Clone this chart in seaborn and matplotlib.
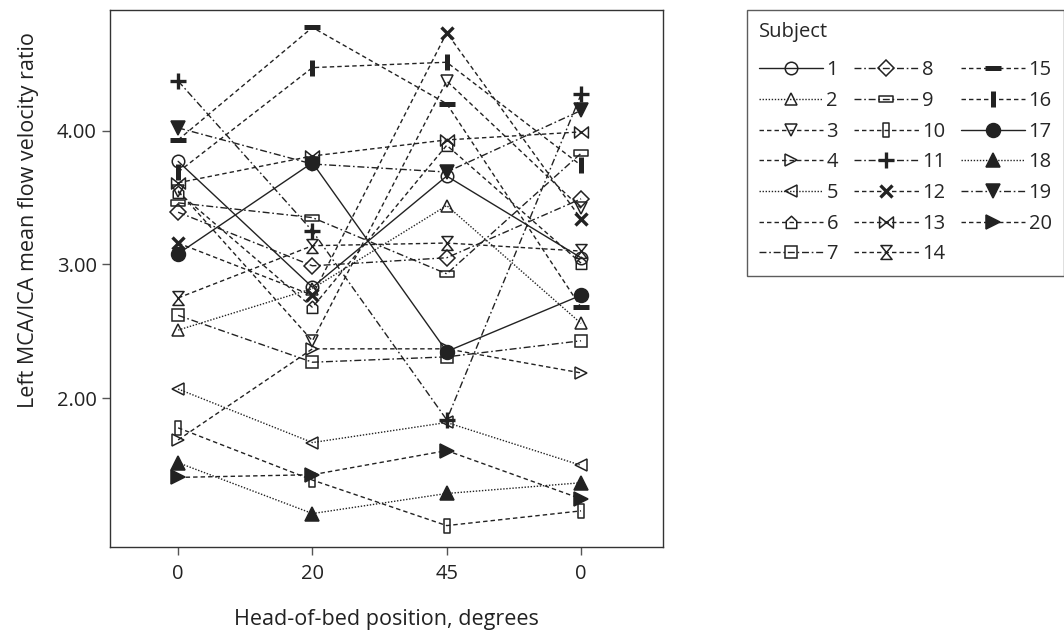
import numpy as np
import pandas as pd
import matplotlib
matplotlib.use("Agg")
import matplotlib.pyplot as plt
from matplotlib.path import Path
from matplotlib.lines import Line2D
import seaborn as sns

# ---------------- data ----------------
subjects = list(range(1, 21))
position_labels = ["0", "20", "45", "0"]
position_index = [0, 1, 2, 3]

at_0_start = [3.77, 2.51, 3.55, 1.69, 2.07, 3.54, 2.62, 3.39, 3.46, 1.78,
              4.37, 3.16, 3.61, 2.75, 3.93, 3.69, 3.08, 1.52, 4.02, 1.41]
at_20 = [2.83, 2.82, 2.43, 2.37, 1.67, 2.68, 2.27, 2.99, 3.35, 1.39,
         3.25, 2.77, 3.81, 3.14, 4.77, 4.47, 3.76, 1.14, 3.75, 1.43]
at_45 = [3.66, 3.44, 4.37, 2.37, 1.82, 3.89, 2.31, 3.05, 2.93, 1.05,
         1.84, 4.73, 3.93, 3.16, 4.20, 4.51, 2.35, 1.29, 3.69, 1.61]
at_0_end = [3.05, 2.56, 3.42, 2.19, 1.50, 3.01, 2.43, 3.49, 3.83, 1.16,
            4.27, 3.34, 3.99, 3.10, 2.68, 3.74, 2.77, 1.37, 4.15, 1.25]

rows = []
for i, s in enumerate(subjects):
    for p, vals in zip(position_index, [at_0_start, at_20, at_45, at_0_end]):
        rows.append({"subject": s, "pos": p, "ratio": vals[i]})
df = pd.DataFrame(rows)

# ---------------- styles ----------------
house = Path([(-0.8, -0.9), (0.8, -0.9), (0.8, 0.2), (0, 0.95), (-0.8, 0.2), (-0.8, -0.9)],
             [Path.MOVETO, Path.LINETO, Path.LINETO, Path.LINETO, Path.LINETO, Path.CLOSEPOLY])
wide_rect = Path([(-1, -0.45), (1, -0.45), (1, 0.45), (-1, 0.45), (-1, -0.45)],
                 [Path.MOVETO, Path.LINETO, Path.LINETO, Path.LINETO, Path.CLOSEPOLY])
tall_rect = Path([(-0.45, -1), (0.45, -1), (0.45, 1), (-0.45, 1), (-0.45, -1)],
                 [Path.MOVETO, Path.LINETO, Path.LINETO, Path.LINETO, Path.CLOSEPOLY])
bowtie = Path([(-1, -0.8), (-1, 0.8), (1, -0.8), (1, 0.8), (-1, -0.8)],
              [Path.MOVETO, Path.LINETO, Path.LINETO, Path.LINETO, Path.CLOSEPOLY])
hourglass = Path([(-0.8, 1), (0.8, 1), (-0.8, -1), (0.8, -1), (-0.8, 1)],
                 [Path.MOVETO, Path.LINETO, Path.LINETO, Path.LINETO, Path.CLOSEPOLY])

SOLID = "-"
DOT = (0, (1, 1.2))
DASH = (0, (3.2, 2.2))
DASHDOT = (0, (5, 2, 1.2, 2))

markers = ["o", "^", "v", ">", "<", house, "s", "D", wide_rect, tall_rect,
           "+", "x", bowtie, hourglass, "_", "|", "o", "^", "v", ">"]
styles = [SOLID, DOT, DASH, DASH, DOT, DASH, DASHDOT, DASHDOT, DASHDOT, DASH,
          DASHDOT, DASH, DASH, DASH, DASH, DASH, SOLID, DOT, DASHDOT, DASH]
filled = [False] * 16 + [True] * 4
sizes = [9, 9, 9, 9, 9, 9, 8, 8, 10, 10, 12, 9, 10, 10, 12, 12, 10, 10, 10, 10]
mews = [1.1] * 10 + [2.4, 2.4, 1.1, 1.1, 3.6, 3.6, 1.1, 1.1, 1.1, 1.1]

ink = "#222222"

# ---------------- figure ----------------
sns.set_theme(style="white")
plt.rcParams["font.family"] = ["Open Sans", "DejaVu Sans"]

fig = plt.figure(figsize=(10.64, 6.3), dpi=100)
ax = fig.add_axes([0.1034, 0.1317, 0.5197, 0.8524])

handles = []
for i, s in enumerate(subjects):
    sub = df[df["subject"] == s]
    kws = dict(marker=markers[i], markersize=sizes[i],
               markeredgecolor=ink, markeredgewidth=mews[i],
               markerfacecolor=ink if filled[i] else "none",
               linewidth=1.0)
    sns.lineplot(data=sub, x="pos", y="ratio", ax=ax, color=ink,
                 linestyle=styles[i], legend=False, sort=False, **kws)
    handles.append(Line2D([], [], color=ink, linestyle=styles[i], **kws))

ax.set_xlim(-0.507, 3.61)
ax.set_ylim(0.89, 4.90)
ax.set_xticks(position_index)
ax.set_xticklabels(position_labels)
ax.set_yticks([2, 3, 4])
ax.set_yticklabels(["2.00", "3.00", "4.00"])
ax.tick_params(axis="both", direction="out", length=6, width=1, color="#555555",
               labelsize=14.5, labelcolor="#222222", bottom=True, left=True)
ax.tick_params(axis="x", pad=6)
for sp in ax.spines.values():
    sp.set_color("#333333")
    sp.set_linewidth(1.0)
ax.set_xlabel("Head-of-bed position, degrees", fontsize=15.5, color="#222222", labelpad=18)
ax.set_ylabel("Left MCA/ICA mean flow velocity ratio", fontsize=15.5, color="#222222")
ax.yaxis.set_label_coords(-0.128, 0.609)

leg = fig.legend(handles, [str(s) for s in subjects], ncol=3, title="Subject",
                 loc="upper left", bbox_to_anchor=(0.702, 0.984), borderaxespad=0,
                 fontsize=14.5, title_fontsize=14.5, frameon=True, fancybox=False,
                 handlelength=3.2, handletextpad=0.15, columnspacing=0.8,
                 labelspacing=0.53, borderpad=0.6, alignment="left")
leg._legend_box.sep = 13
leg.get_frame().set_edgecolor("#333333")
leg.get_frame().set_linewidth(1.0)

fig.savefig("out.png", dpi=100)
